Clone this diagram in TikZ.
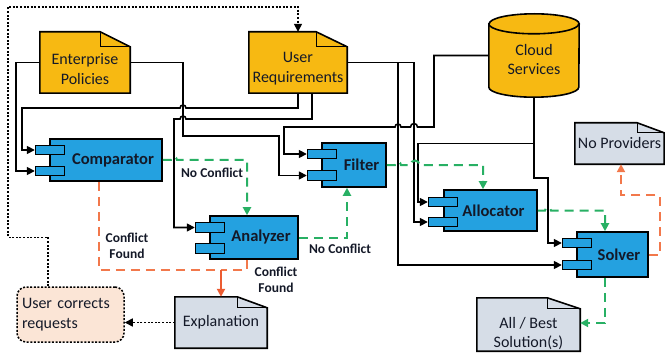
\documentclass[tikz,border=0pt]{standalone}
\usepackage{fontspec}
\setmainfont{Carlito}
\usetikzlibrary{arrows.meta,backgrounds,calc}
\definecolor{ygold}{RGB}{247,185,18}
\definecolor{cblue}{RGB}{36,161,224}
\definecolor{dgray}{RGB}{214,221,231}
\definecolor{peach}{RGB}{251,229,214}
\definecolor{ggreen}{RGB}{40,176,100}
\definecolor{oorange}{RGB}{242,120,75}
\definecolor{ored}{RGB}{236,92,50}
\definecolor{txt}{RGB}{20,25,40}
\newcommand{\upsp}[1]{\rule{0pt}{#1}}
\newcommand{\foldeddoc}[4]{%
  \begin{scope}[on background layer]
  \filldraw[fill=#4, draw=black, line width=1.6pt, line join=miter]
    (#1.south west) -- (#1.north west) -- ([xshift=-#2]#1.north east)
    -- ([yshift=-#3]#1.north east) -- (#1.south east) -- cycle;
  \draw[line width=1.3pt, line join=miter] ([xshift=-#2]#1.north east)
    -- ([xshift=-#2,yshift=-#3]#1.north east) -- ([yshift=-#3]#1.north east);
  \end{scope}}
\begin{document}
\begin{tikzpicture}[x=1pt,y=-1pt,
  tip/.style={-{Triangle[length=8pt,width=8pt]}},
  conn/.style={draw=black, line width=1.6pt, tip},
  okflow/.style={draw=ggreen, line width=2pt, dash pattern=on 9pt off 6pt, tip},
  badflow/.style={draw=oorange, line width=2pt, dash pattern=on 9pt off 6pt},
  dotflow/.style={draw=black, line width=1.5pt, dash pattern=on 2pt off 1.6pt, tip},
  docnode/.style={draw=none, inner sep=0pt, align=center, text=txt,
    font=\fontsize{16}{19.5}\selectfont},
  compbody/.style={draw=black, fill=cblue, line width=1.6pt, inner sep=0pt, text=txt,
    font=\fontsize{16.5}{19}\selectfont\bfseries},
  comptab/.style={draw=black, fill=cblue, line width=1.4pt, inner sep=0pt,
    minimum width=29pt, minimum height=9.5pt},
  lbl/.style={inner sep=0pt, text=txt, align=center, font=\fontsize{13.5}{16}\selectfont\bfseries}
]
\useasboundingbox (0,0) rectangle (665,353);
\begin{scope}[on background layer]
  \fill[white] (0,0) rectangle (665,353);
\end{scope}

% documents and store
\node[docnode, minimum width=90pt, minimum height=61pt] (ep) at (85,62.5) {\upsp{24pt}Enterprise\\Policies};
\node[docnode, minimum width=98pt, minimum height=61pt] (ur) at (298,62.5) {\upsp{23pt}User\\Requirements};
\node[docnode, minimum width=90pt, minimum height=83pt] (cs) at (534,55.5) {\upsp{19.5pt}Cloud\\Services};
\node[docnode, minimum width=89pt, minimum height=41pt] (np) at (619.5,143.5) {No Providers};
\node[docnode, minimum width=92pt, minimum height=51pt] (exp) at (221,322.5) {Explanation};
\node[docnode, minimum width=103pt, minimum height=53pt] (sol) at (528.5,324.5) {\upsp{29pt}All / Best\\Solution(s)};
\node[draw=black, fill=peach, line width=1.5pt, dash pattern=on 2pt off 1.6pt, rounded corners=9pt,
  minimum width=107pt, minimum height=55pt, text width=97pt, inner xsep=5pt, inner ysep=0pt,
  align=left, text=txt, font=\fontsize{16}{19.5}\selectfont] (uc) at (70.5,314.5) {User corrects\\requests};

\foldeddoc{ep}{30pt}{15pt}{ygold}
\foldeddoc{ur}{31pt}{15pt}{ygold}
\foldeddoc{np}{27pt}{10pt}{dgray}
\foldeddoc{exp}{30pt}{11pt}{dgray}
\foldeddoc{sol}{33pt}{11pt}{dgray}
\begin{scope}[on background layer]
  \filldraw[fill=ygold, draw=black, line width=1.6pt]
    ([yshift=-10pt]cs.north west) -- ([yshift=10pt]cs.south west)
    arc[start angle=180, end angle=360, x radius=45pt, y radius=10pt]
    -- ([yshift=-10pt]cs.north east)
    arc[start angle=0, end angle=180, x radius=45pt, y radius=10pt] -- cycle;
  \draw[line width=1.6pt] ([yshift=-10pt]cs.north west)
    arc[start angle=180, end angle=360, x radius=45pt, y radius=10pt];
\end{scope}

% components
\node[compbody, minimum width=112pt, minimum height=42pt] (cmp) at (106,160) {\hspace*{14pt}Comparator};
\node[comptab] (cmpA) at (50,150) {};
\node[comptab] (cmpB) at (50,171) {};
\node[compbody, minimum width=64pt, minimum height=44pt] (fil) at (354,165) {\hspace*{15pt}Filter};
\node[comptab] (fA) at (322,154) {};
\node[comptab] (fB) at (322,175.5) {};
\node[compbody, minimum width=88pt, minimum height=43pt] (an) at (254,237.5) {\hspace*{14pt}Analyzer};
\node[comptab] (anA) at (210,227.5) {};
\node[comptab] (anB) at (210,248.5) {};
\node[compbody, minimum width=93pt, minimum height=41pt] (al) at (490.5,210.5) {\hspace*{6pt}Allocator};
\node[comptab] (alA) at (443,202) {};
\node[comptab] (alB) at (443,222) {};
\node[compbody, minimum width=71pt, minimum height=45pt] (sv) at (612.5,254.5) {\hspace*{13pt}Solver};
\node[comptab] (sA) at (577,243) {};
\node[comptab] (sB) at (577,265) {};

% labels
\node[lbl] (nc1) at (212,173) {No Conflict};
\node[lbl] (nc2) at (340,249) {No Conflict};
\node[lbl] (cf1) at (127,246) {Conflict\\Found};
\node[lbl] (cf2) at (276,279.5) {Conflict\\Found};

% black connectors
\draw[conn] (ep.west) -- ++(-24,0) |- (cmpB.west);
\draw[conn] (ur.south) |- (186,108) arc[start angle=0, end angle=180, radius=3pt] -- (22,108) |- (cmpA.west);
\draw[conn] ([xshift=14pt]ur.south) |- (186,119) arc[start angle=0, end angle=180, radius=3pt] -- (174,119) |- (anA.west);
\draw[conn] (ep.east) -| (183,136) -- (279,136) |- (fB.west);
\draw[conn] (cs.west) -| (434,127) -- (417.5,127) arc[start angle=0, end angle=180, radius=3.5pt]
  -- (401,127) arc[start angle=0, end angle=180, radius=3pt] -- (284,127) |- (fA.west);
\draw[conn] (ur.east) -- (398,62.5) |- (sB.west);
\draw[conn] (ur.east) -- (414,62.5) |- (alB.west);
\draw[conn] (cs.south) |- (418,143.5) |- (alA.west);
\draw[conn] (cs.south) |- (548,178) |- (sA.west);

% green flows
\draw[okflow] (cmp.east) -- (171,160) arc[start angle=180, end angle=0, radius=3pt] -| ([xshift=-7pt]an.north);
\draw[okflow] (an.east) -| ([xshift=-7pt]fil.south);
\draw[okflow] (fil.east) -- (395,165) arc[start angle=180, end angle=0, radius=3pt]
  -- (410.5,165) arc[start angle=180, end angle=0, radius=4.5pt] -| ([xshift=-7.5pt]al.north);
\draw[okflow] (al.east) -- (545,210.5) arc[start angle=180, end angle=0, radius=3pt] -| ([xshift=-7.5pt]sv.north);
\draw[okflow] ([xshift=-7.5pt]sv.south) |- ([yshift=1.5pt]sol.east);

% orange flows
\draw[badflow, tip] (sv.east) -- ++(11,0) -- ++(0,-59.5) -| ([xshift=1.5pt]np.south);
\coordinate (mj) at (221,270);
\draw[badflow] ([xshift=-7pt]cmp.south) |- (mj);
\draw[badflow] ([xshift=-7pt]an.south) |- (mj);
\draw[draw=ored, line width=2pt, tip] (mj) -- (exp.north);

% dotted feedback
\draw[dotflow] ([xshift=-22.5pt]uc.north) -- ++(0,-49) -| (8,7) -| (ur.north);
\draw[dotflow] (exp.west) -- (exp.west -| uc.east);
\end{tikzpicture}
\end{document}
